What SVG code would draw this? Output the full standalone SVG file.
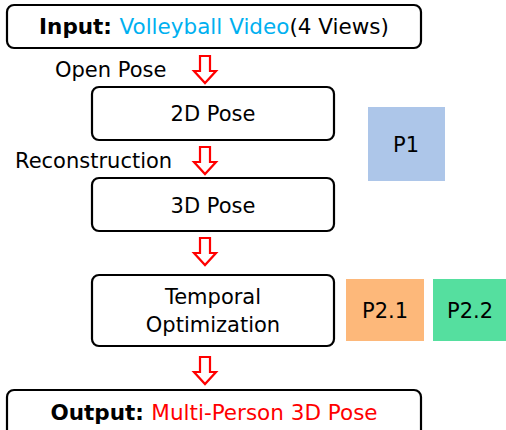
<svg xmlns="http://www.w3.org/2000/svg" width="506" height="430" viewBox="0 0 506 430">
<defs>
<style>
.box{fill:#fff;stroke:#000;stroke-width:2.2}
.t{font-family:"DejaVu Sans",Verdana,sans-serif;font-size:21px;fill:#000}
.big{font-size:21.5px}
.c{text-anchor:middle}
.arr{fill:#fff;stroke:#f00;stroke-width:2.2;stroke-linejoin:miter}
</style>
<path id="a" d="M-5,0 H5 V15 H11 L0,27 L-11,15 H-5 Z"/>
</defs>
<rect width="506" height="430" fill="#fff"/>
<g id="input">
<rect class="box" x="7" y="5" width="414" height="43" rx="7"/>
<text class="t big c" x="214" y="34"><tspan font-weight="bold">Input: </tspan><tspan fill="#00b0f0">Volleyball Video</tspan>(4 Views)</text>
</g>
<g id="pose2d">
<rect class="box" x="92" y="87" width="242" height="53" rx="7"/>
<text class="t c" x="213" y="121">2D Pose</text>
</g>
<g id="pose3d">
<rect class="box" x="92" y="178" width="242" height="53" rx="7"/>
<text class="t c" x="213" y="213">3D Pose</text>
</g>
<g id="temporal">
<rect class="box" x="92" y="275" width="242" height="71" rx="7"/>
<text class="t c" x="213" y="304">Temporal</text>
<text class="t c" x="213" y="332">Optimization</text>
</g>
<g id="output">
<rect class="box" x="7" y="390" width="414" height="50" rx="7"/>
<text class="t big c" x="214" y="420"><tspan font-weight="bold">Output: </tspan><tspan fill="#f00">Multi-Person 3D Pose</tspan></text>
</g>
<g id="p1">
<rect x="368" y="107" width="77" height="74" fill="#adc6e9"/>
<text class="t c" x="406" y="152">P1</text>
</g>
<g id="p21">
<rect x="346" y="279" width="78" height="62" fill="#fdb87a"/>
<text class="t c" x="385" y="318">P2.1</text>
</g>
<g id="p22">
<rect x="433" y="279" width="73" height="62" fill="#55df9f"/>
<text class="t c" x="470" y="318">P2.2</text>
</g>
<g id="connectors">
<use href="#a" class="arr" x="205" y="56"/>
<use href="#a" class="arr" x="205" y="147"/>
<use href="#a" class="arr" x="205" y="238"/>
<use href="#a" class="arr" x="205" y="357"/>
<text class="t" x="55" y="77">Open Pose</text>
<text class="t" x="15" y="168">Reconstruction</text>
</g>
</svg>
